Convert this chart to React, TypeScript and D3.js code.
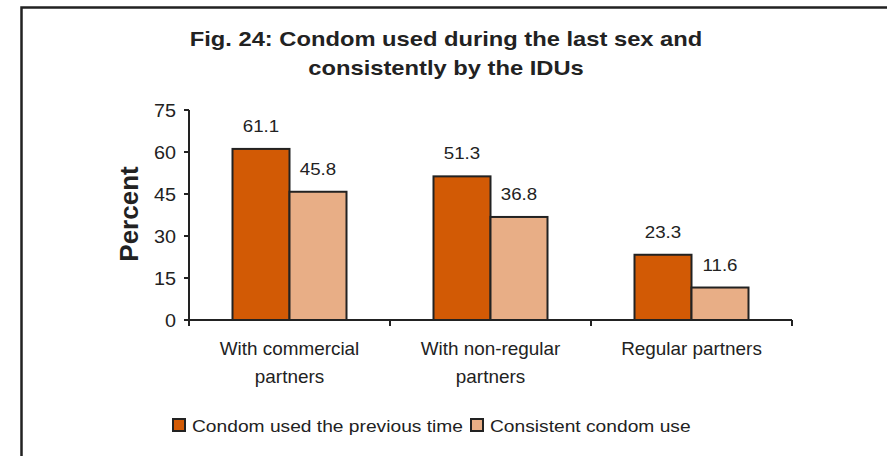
import React from "react";
import * as d3 from "d3";

const categories = [["With commercial", "partners"], ["With non-regular", "partners"], ["Regular partners"]];
const seriesNames = ["Condom used the previous time", "Consistent condom use"];
const previousTime = [61.1, 51.3, 23.3];
const consistentUse = [45.8, 36.8, 11.6];
const yTicks = [0, 15, 30, 45, 60, 75];
const colors = ["#D25A05", "#E8AE86"];

const font = "Arial, 'Liberation Sans', sans-serif";

function T(props: { x: number; y: number; sx?: number; size: number; anchor?: string; bold?: boolean; children: React.ReactNode }) {
  const { x, y, sx = 1, size, anchor = "start", bold = false, children } = props;
  return (
    <text
      transform={`translate(${x},${y}) scale(${sx},1)`}
      textAnchor={anchor}
      fontFamily={font}
      fontSize={size}
      fontWeight={bold ? "bold" : "normal"}
      fill="#222"
    >
      {children}
    </text>
  );
}

export default function App() {
  const W = 887, H = 456;
  const x0 = 189, x1 = 792, yTop = 110, yBot = 320;
  const x = d3.scaleBand<number>().domain([0, 1, 2]).range([x0, x1]).paddingInner(0).paddingOuter(0);
  const y = d3.scaleLinear().domain([0, 75]).range([yBot, yTop]);
  const bw = 57;
  const series = [previousTime, consistentUse];
  return (
    <svg width={W} height={H} style={{ position: "absolute", left: 0, top: 0 }}>
      <rect x={0} y={0} width={W} height={H} fill="#fff" />
      <rect x={21.5} y={7.5} width={W + 10} height={H + 10} fill="none" stroke="#222" strokeWidth={2.5} />
      <T x={446} y={46} size={21} sx={1.13} anchor="middle" bold>Fig. 24: Condom used during the last sex and</T>
      <T x={446} y={75} size={21} sx={1.13} anchor="middle" bold>consistently by the IDUs</T>
      <text transform={`translate(138,214) rotate(-90)`} textAnchor="middle" fontFamily={font} fontWeight="bold" fontSize={26} fill="#222">Percent</text>
      {series.map((vals, s) =>
        vals.map((v, i) => {
          const cx = x(i)! + x.bandwidth() / 2;
          const bx = cx - bw + s * bw;
          return (
            <g key={`${s}-${i}`}>
              <rect x={bx} y={y(v)} width={bw} height={yBot - y(v)} fill={colors[s]} stroke="#222" strokeWidth={2} />
              <T x={bx + bw / 2} y={y(v) - 17} size={16} sx={1.17} anchor="middle">{v.toFixed(1)}</T>
            </g>
          );
        })
      )}
      <line x1={x0} x2={x0} y1={yTop} y2={yBot} stroke="#222" strokeWidth={2} />
      <line x1={x0} x2={x1} y1={yBot} y2={yBot} stroke="#222" strokeWidth={2} />
      {yTicks.map((t) => (
        <g key={t}>
          <line x1={x0 - 5} x2={x0} y1={y(t)} y2={y(t)} stroke="#222" strokeWidth={2} />
          <T x={x0 - 13} y={y(t) + 7} size={18} sx={1.1} anchor="end">{t}</T>
        </g>
      ))}
      {[0, 1, 2, 3].map((i) => {
        const tx = i < 3 ? x(i)! : x1;
        return <line key={i} x1={tx} x2={tx} y1={yBot} y2={yBot + 6} stroke="#222" strokeWidth={2} />;
      })}
      {categories.map((lines, i) =>
        lines.map((l, j) => (
          <T key={`${i}-${j}`} x={x(i)! + x.bandwidth() / 2} y={355 + j * 28} size={17.5} sx={1.08} anchor="middle">{l}</T>
        ))
      )}
      {seriesNames.map((n, s) => {
        const lx = s === 0 ? 173 : 471;
        return (
          <g key={n}>
            <rect x={lx} y={419} width={12} height={12} fill={colors[s]} stroke="#222" strokeWidth={2} />
            <T x={lx + 19} y={432} size={17} sx={1.13}>{n}</T>
          </g>
        );
      })}
    </svg>
  );
}
